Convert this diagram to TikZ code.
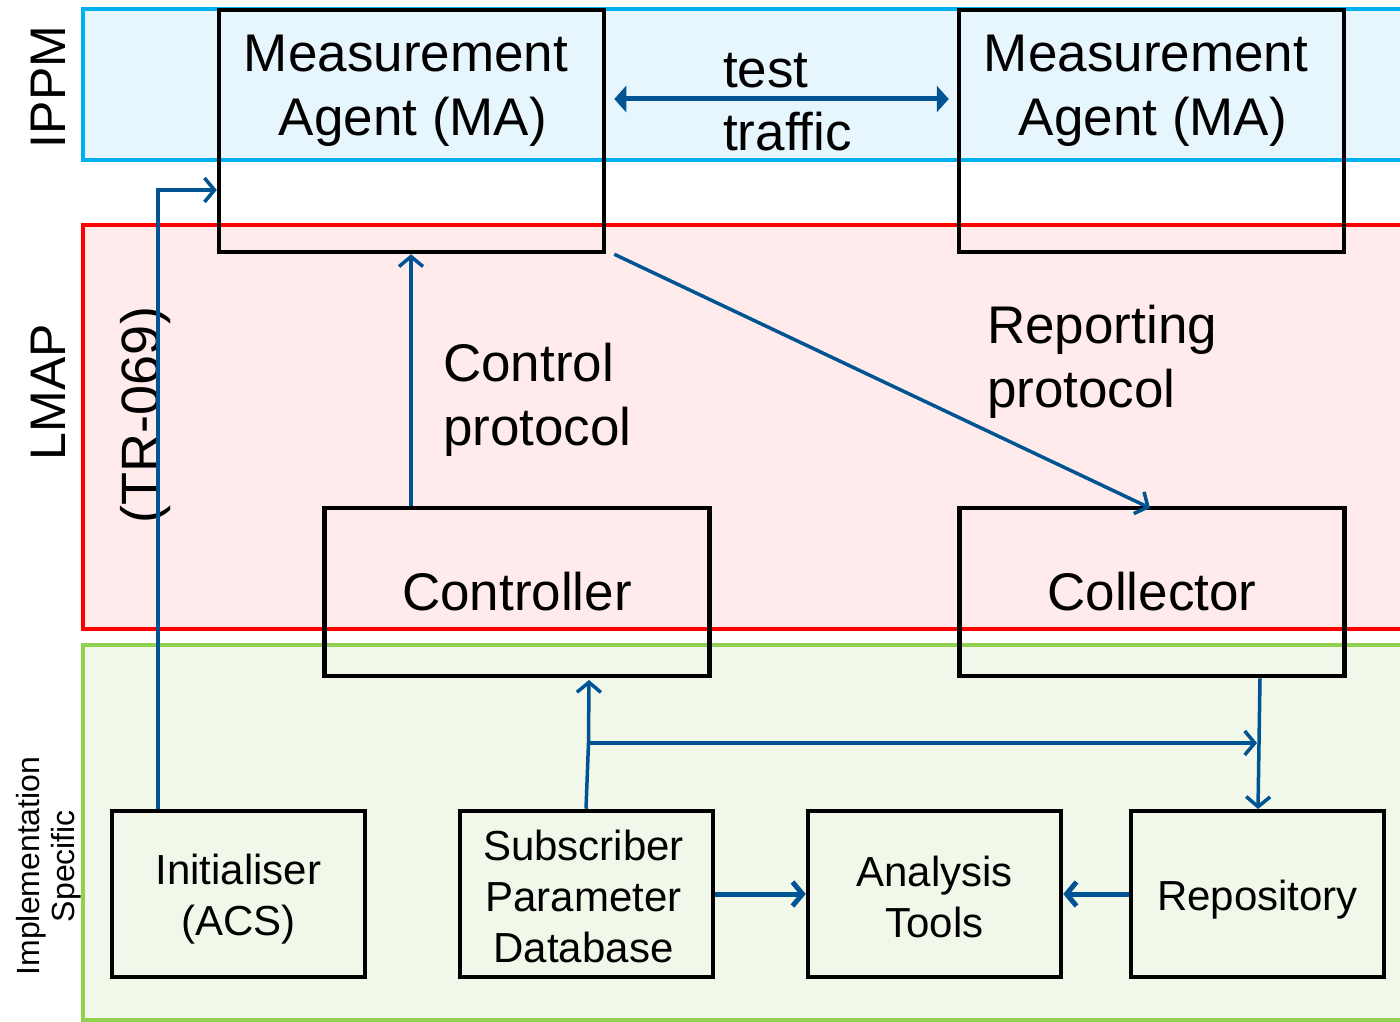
\documentclass[tikz,border=0pt]{standalone}
\usepackage{fontspec}
\setmainfont{Liberation Sans}
\usetikzlibrary{arrows.meta}
\definecolor{ippmfill}{RGB}{231,246,253}
\definecolor{ippmline}{RGB}{0,176,240}
\definecolor{lmapfill}{RGB}{255,235,235}
\definecolor{lmapline}{RGB}{255,0,0}
\definecolor{implfill}{RGB}{241,247,233}
\definecolor{implline}{RGB}{146,208,80}
\definecolor{arrblue}{RGB}{0,84,147}
\begin{document}
\begin{tikzpicture}[x=1pt,y=-1pt,
  band/.style={line width=4pt},
  box/.style={draw=black,line width=4.5pt,rectangle,inner sep=0pt,align=center},
  bigbox/.style={box,minimum width=385pt},
  smallbox/.style={box,minimum width=253pt,minimum height=166pt},
  smalltext/.style={inner sep=0pt,align=center,font=\fontsize{42}{51}\selectfont},
  big/.style={font=\fontsize{53}{63.5}\selectfont,inner sep=0pt},
  side/.style={font=\fontsize{50}{60}\selectfont,inner sep=0pt,rotate=90},
  conn/.style={draw=arrblue,line width=3.5pt,-{Straight Barb[length=10pt,width=24pt]}},
  thick conn/.style={conn,line width=5pt},
  traffic/.style={draw=arrblue,line width=5pt,{Triangle[length=12pt,width=26pt]}-{Triangle[length=12pt,width=26pt]}}
]
\useasboundingbox (0,0) rectangle (1400,1022);
\clip (0,0) rectangle (1400,1022);
% bands
\fill[white] (0,0) rectangle (1400,1022);
\draw[band,draw=ippmline,fill=ippmfill] (83,9) rectangle (1420,160);
\draw[band,draw=lmapline,fill=lmapfill] (83,225) rectangle (1420,629);
\draw[band,draw=implline,fill=implfill] (83,645) rectangle (1420,1020);
% band labels
\node[side] (ippm) at (48,87) {IPPM};
\node[side] (lmap) at (48,392) {LMAP};
\node[rotate=90,inner sep=0pt,align=center,font=\fontsize{32}{35}\selectfont] (impl) at (49,866) {Implementation\\Specific};
% boxes
\node[bigbox,minimum height=242pt] (ma1) at (411.5,131) {};
\node[bigbox,minimum height=242pt] (ma2) at (1151.5,131) {};
\node[big,align=center] (ma1t) at (406,91) {Measurement\\\hspace*{14pt}Agent (MA)};
\node[big,align=center] (ma2t) at (1146,91) {Measurement\\\hspace*{14pt}Agent (MA)};
\node[bigbox,minimum height=168pt,big] (ctrl) at (517,592) {\raisebox{-9pt}{Controller}};
\node[bigbox,minimum height=168pt,big] (coll) at (1152,592) {\raisebox{-9pt}{Collector}};
\node[smallbox] (init) at (238.5,894) {};
\node[smallbox] (spd) at (586.5,894) {};
\node[smallbox] (ana) at (934.5,894) {};
\node[smallbox] (repo) at (1257.5,894) {};
\node[smalltext] (initt) at ([yshift=-5pt]init.center) {Initialiser\\(ACS)};
\node[smalltext] (spdt) at ([xshift=-3pt,yshift=-2pt]spd.center) {Subscriber\\Parameter\\Database};
\node[smalltext] (anat) at ([yshift=-3pt]ana.center) {Analysis\\Tools};
\node[smalltext] (repot) at ([yshift=-6pt]repo.center) {Repository};
% labels
\node[big,align=left,anchor=west] (tt) at (723,102) {test\\traffic};
\node[big,align=left,anchor=west] (cp) at (443,400) {Control\\protocol};
\node[big,align=left,anchor=west] (rp) at (987,362) {Reporting\\protocol};
\node[side,font=\fontsize{54}{60}\selectfont] (tr) at (146,415) {(TR-069)};
% connectors
\draw[traffic] ([xshift=8pt,yshift=32pt]ma1.east) -- ([xshift=-8pt,yshift=32pt]ma2.west);
\draw[conn] (init.north -| 158,0) -- (158,190) -- (ma1.west |- 0,190);
\draw[conn] (ctrl.north -| 411,0) -- (ma1.south -| 411,0);
\draw[conn] ([xshift=8pt]ma1.south east) -- (1150,508);
\coordinate (jn) at (588.5,743);
\draw[conn] (spd.north -| 586,0) -- (jn) -- (589,680);
\draw[conn] (jn) -- (1257,743);
\draw[conn] (coll.south -| 1260,0) -- (1258,809);
\draw[thick conn] (spd.east) -- (ana.west);
\draw[thick conn] (repo.west) -- (ana.east);
\end{tikzpicture}
\end{document}
